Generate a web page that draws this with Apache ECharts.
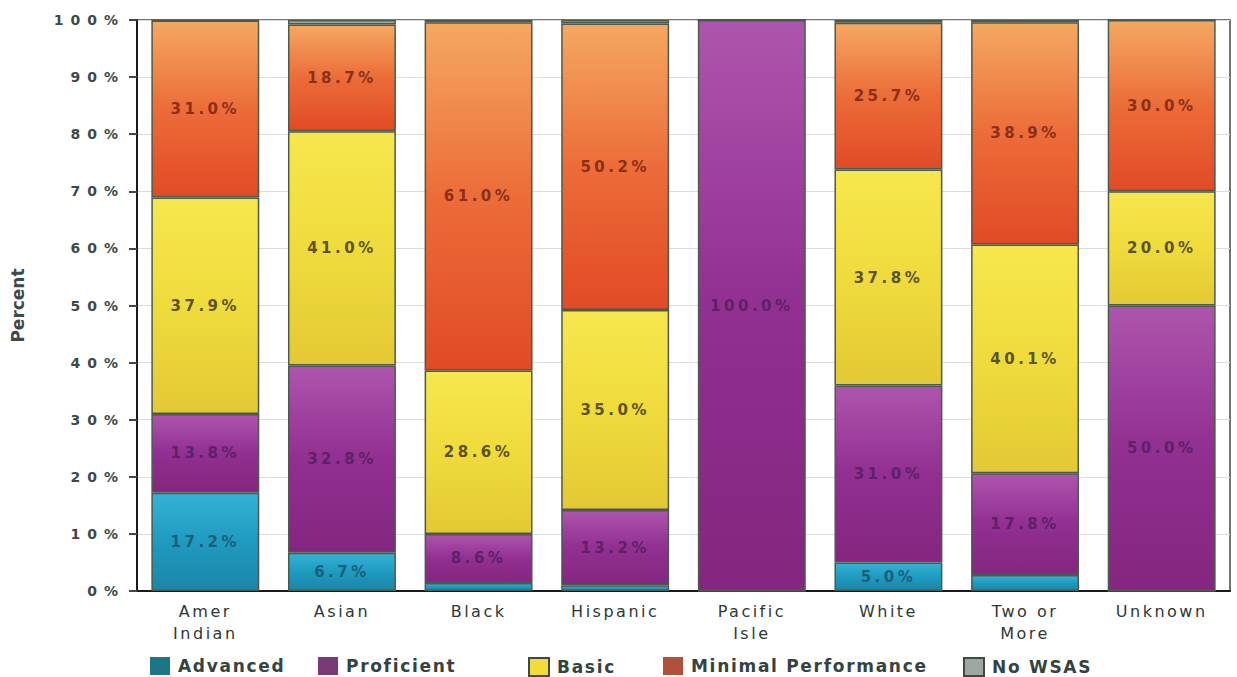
<!DOCTYPE html>
<html>
<head>
<meta charset="utf-8">
<script src="https://cdn.jsdelivr.net/npm/echarts@6/dist/echarts.min.js"></script>
<style>
html,body{margin:0;padding:0;background:#ffffff;}
#chart{width:1237px;height:677px;}
/* wide letter spacing like the reference typography */
#chart text[fill="#3c4a47"]{letter-spacing:7px;}
#chart text[fill="#2e3836"]{letter-spacing:2.5px;}
#chart text[fill="#1d5f78"],
#chart text[fill="#5c2266"],
#chart text[fill="#5a5428"],
#chart text[fill="#8a2f18"]{letter-spacing:3.5px;}
#chart text[fill="#34433f"]{letter-spacing:1.7px;}
</style>
</head>
<body>
<div id="chart"></div>
<script>
// ---- data ----
const categories = ['Amer\nIndian', 'Asian', 'Black', 'Hispanic', 'Pacific\nIsle', 'White', 'Two or\nMore', 'Unknown'];
const seriesNames = ['Advanced', 'Proficient', 'Basic', 'Minimal Performance', 'No WSAS'];
const advanced   = [17.2, 6.7, 1.4, 1.0, 0, 5.0, 2.8, 0];
const proficient = [13.8, 32.8, 8.6, 13.2, 100.0, 31.0, 17.8, 50.0];
const basic      = [37.9, 41.0, 28.6, 35.0, 0, 37.8, 40.1, 20.0];
const minimal    = [31.0, 18.7, 61.0, 50.2, 0, 25.7, 38.9, 30.0];
const noWsas     = [0.1, 0.8, 0.4, 0.6, 0, 0.5, 0.4, 0];
const yMin = 0, yMax = 100, yStep = 10;

// ---- styles ----
function grad(top, mid, bottom) {
  return new echarts.graphic.LinearGradient(0, 0, 0, 1, [
    {offset: 0, color: top}, {offset: 0.5, color: mid}, {offset: 1, color: bottom}
  ]);
}
const fills = [
  grad('#35b3d6', '#1f9ac0', '#1a86a8'),
  grad('#ad55ad', '#922f92', '#84267f'),
  grad('#f6e74e', '#f0db3c', '#e3c935'),
  grad('#f5a862', '#ec6c38', '#e14a26'),
  grad('#b8bcb4', '#a4aaa2', '#959b92')
];
const labelColors = ['#1d5f78', '#5c2266', '#5a5428', '#8a2f18', '#555555'];
const legendColors = ['#1b7686', '#7a3a78', '#f2dc3c', '#b0523a', '#a0a6a0'];
const legendLeft = [150, 318, 528, 663, 963];
const dataSets = [advanced, proficient, basic, minimal, noWsas];

const series = seriesNames.map((name, i) => ({
  name: name,
  type: 'bar',
  stack: 'total',
  barCategoryGap: '21%',
  data: dataSets[i],
  itemStyle: {color: fills[i], borderColor: '#4b5a4c', borderWidth: 1.5},
  emphasis: {disabled: true},
  label: {
    show: i < 4,
    position: 'inside',
    color: labelColors[i],
    fontFamily: 'DejaVu Sans',
    fontWeight: 'bold',
    fontSize: 15,
    formatter: p => (p.value >= 5 ? p.value.toFixed(1) + '%' : '')
  }
}));

const legends = seriesNames.map((name, i) => ({
  left: legendLeft[i],
  top: 657,
  itemWidth: 20,
  itemHeight: 18,
  itemGap: 0,
  padding: 0,
  selectedMode: false,
  icon: 'rect',
  data: [{name: name, itemStyle: {color: legendColors[i], borderColor: (i === 2 || i === 4) ? '#3f4a44' : legendColors[i], borderWidth: (i === 2 || i === 4) ? 2 : 0}}],
  textStyle: {fontFamily: 'DejaVu Sans', fontWeight: 'bold', fontSize: 17, lineHeight: 18, color: '#34433f', padding: [0, 0, 0, 3]}
}));

const chart = echarts.init(document.getElementById('chart'), null, {renderer: 'svg'});
chart.setOption({
  backgroundColor: '#ffffff',
  animation: false,
  legend: legends,
  grid: {left: 137, right: 7, top: 20, bottom: 86, show: true, borderColor: '#3f4a45', borderWidth: 1.5, backgroundColor: 'transparent'},
  xAxis: {
    type: 'category',
    data: categories,
    axisLine: {lineStyle: {color: '#1a1a1a', width: 2}},
    axisTick: {alignWithLabel: true, length: 8, lineStyle: {color: '#2e3836', width: 2}},
    axisLabel: {color: '#2e3836', fontFamily: 'DejaVu Sans', fontSize: 16, lineHeight: 22, margin: 9}
  },
  yAxis: {
    type: 'value',
    min: yMin, max: yMax, interval: yStep,
    name: 'Percent',
    nameLocation: 'middle',
    nameRotate: 90,
    nameGap: 111,
    nameTextStyle: {color: '#3c4a49', fontFamily: 'DejaVu Sans', fontWeight: 'bold', fontSize: 17},
    axisLine: {show: true, lineStyle: {color: '#1a1a1a', width: 2}},
    axisTick: {show: true, length: 8, lineStyle: {color: '#3c4a47', width: 2}},
    splitLine: {lineStyle: {color: '#dcdcdc', width: 1}},
    axisLabel: {color: '#3c4a47', fontFamily: 'DejaVu Sans', fontWeight: 'bold', fontSize: 14, margin: 12, formatter: '{value}%'}
  },
  series: series
});
</script>
</body>
</html>
